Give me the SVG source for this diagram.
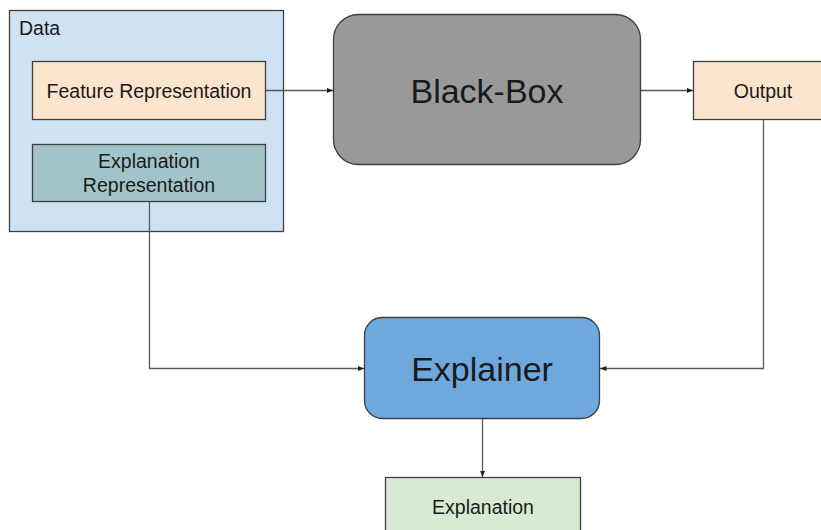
<svg xmlns="http://www.w3.org/2000/svg" width="821" height="530" viewBox="0 0 821 530">
  <style>
    .box { stroke: #3f3f3f; stroke-width: 1.3; }
    .lbl { font-family: "Liberation Sans", Arial, sans-serif; fill: #1a1a1a; text-anchor: middle; dominant-baseline: central; }
    .sm { font-size: 19.5px; }
    .lg { font-size: 34px; }
    .edge { fill: none; stroke: #595959; stroke-width: 1.3; }
  </style>
  <defs>
    <marker id="arrow" viewBox="0 0 10 10" refX="10" refY="5" markerWidth="5" markerHeight="5" orient="auto-start-reverse" markerUnits="strokeWidth">
      <path d="M0,1 L10,5 L0,9 z" fill="#222"/>
    </marker>
  </defs>
  <rect width="821" height="530" fill="#fff"/>

  <g id="data">
    <rect class="box" x="9.5" y="10.5" width="274" height="221" fill="#cfe2f3"/>
    <text class="lbl sm" x="19" y="28" style="text-anchor:start">Data</text>
  </g>
  <g id="feature-representation">
    <rect class="box" x="32.5" y="61.5" width="233" height="58" fill="#fce5cd"/>
    <text class="lbl sm" x="149" y="90.5">Feature Representation</text>
  </g>
  <g id="explanation-representation">
    <rect class="box" x="32.5" y="144.5" width="233" height="57" fill="#a2c4c9"/>
    <text class="lbl sm" x="149" y="161">Explanation</text>
    <text class="lbl sm" x="149" y="185">Representation</text>
  </g>
  <g id="black-box">
    <rect class="box" x="333.5" y="14.5" width="307" height="150" rx="25" fill="#999999"/>
    <text class="lbl lg" x="487" y="91">Black-Box</text>
  </g>
  <g id="output">
    <rect class="box" x="693.5" y="61.5" width="130" height="58" fill="#fce5cd"/>
    <text class="lbl sm" x="763" y="91">Output</text>
  </g>
  <g id="explainer">
    <rect class="box" x="364.5" y="317.5" width="235" height="101" rx="18" fill="#6fa8dc"/>
    <text class="lbl lg" x="482" y="369">Explainer</text>
  </g>
  <g id="explanation">
    <rect class="box" x="385.5" y="477.5" width="195" height="60" fill="#d9ead3"/>
    <text class="lbl sm" x="483" y="507">Explanation</text>
  </g>

  <g id="connectors">
    <path class="edge" d="M266,90.5 H333" marker-end="url(#arrow)"/>
    <path class="edge" d="M641,90.5 H693" marker-end="url(#arrow)"/>
    <path class="edge" d="M149.5,202 V368.5 H364" marker-end="url(#arrow)"/>
    <path class="edge" d="M763.5,120 V368.5 H600" marker-end="url(#arrow)"/>
    <path class="edge" d="M482.5,419 V477" marker-end="url(#arrow)"/>
  </g>
</svg>
